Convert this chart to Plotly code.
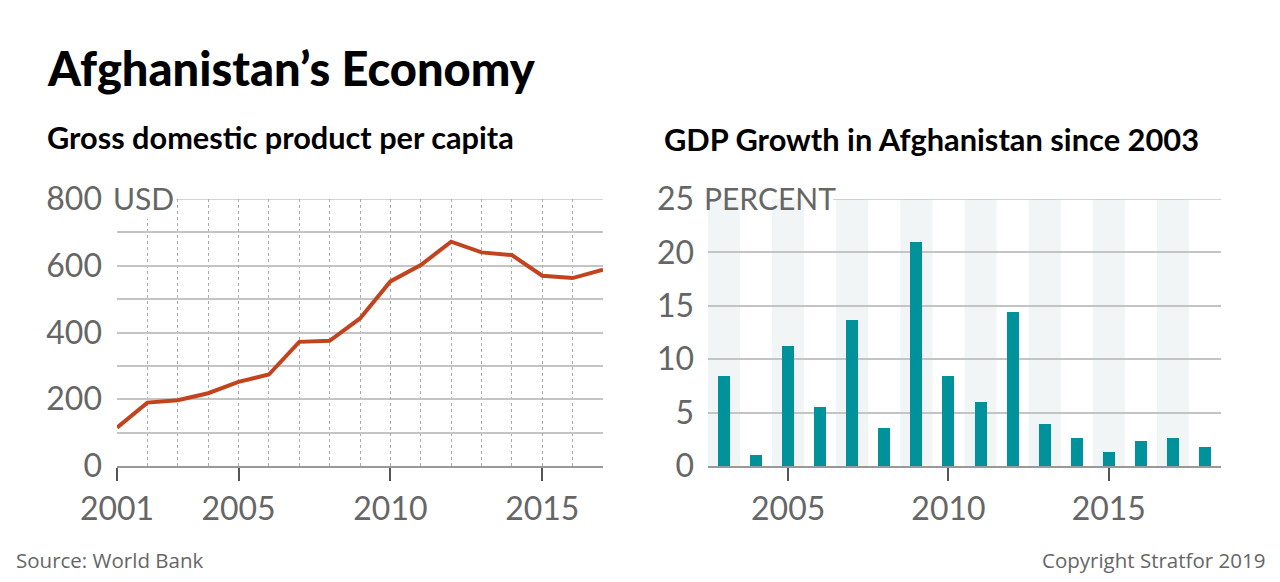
import plotly.graph_objects as go

# ---- data ----
gdp_years = list(range(2001, 2018))
gdp_per_capita = [115, 190, 197, 218, 252, 274, 372, 375, 442, 553, 602, 672, 640, 632, 570, 563, 588]

growth_years = list(range(2003, 2019))
growth_pct = [8.4, 1.0, 11.2, 5.5, 13.7, 3.6, 21.0, 8.4, 6.0, 14.4, 3.9, 2.6, 1.3, 2.3, 2.6, 1.8]

left_xticks = [2001, 2005, 2010, 2015]
left_yticks = [0, 200, 400, 600, 800]
right_xticks = [2005, 2010, 2015]
right_yticks = [0, 5, 10, 15, 20, 25]

W, H = 1280, 582
def px_x(p): return p / W
def px_y(p): return 1 - p / H

FONT = "Lato"
GRAY = "#666666"
LINE_RED = "#c1441e"
TEAL = "#00929b"
BAND = "#f1f5f6"
GRID = "#c4c4c4"

fig = go.Figure()

fig.add_trace(go.Scatter(x=gdp_years, y=gdp_per_capita, mode="lines",
                         line=dict(color=LINE_RED, width=4), xaxis="x", yaxis="y",
                         hoverinfo="x+y", showlegend=False))
fig.add_trace(go.Bar(x=growth_years, y=growth_pct, marker=dict(color=TEAL, line=dict(width=0)),
                     width=0.375, xaxis="x2", yaxis="y2", showlegend=False))

ydom = [px_y(466), px_y(199)]
tickfont = dict(family=FONT, size=32, color=GRAY)

fig.update_layout(
    width=W, height=H,
    margin=dict(l=0, r=0, t=0, b=0),
    paper_bgcolor="white", plot_bgcolor="white",
    xaxis=dict(domain=[px_x(117), px_x(603)], range=[2001, 2017], tickvals=left_xticks,
               ticks="outside", ticklen=13, tickcolor="#555555", tickwidth=1.5,
               showline=True, linecolor="#999999", linewidth=2,
               showgrid=True, gridcolor="#aaaaaa", griddash="dot", gridwidth=1,
               minor=dict(dtick=1, tick0=2001, showgrid=True, gridcolor="#aaaaaa",
                          griddash="dot", gridwidth=1, ticklen=0),
               tickfont=tickfont, ticklabelstandoff=1, zeroline=False,
               automargin=False, fixedrange=True),
    yaxis=dict(domain=ydom, range=[0, 800], tickvals=left_yticks, showgrid=False,
               minor=dict(tickvals=[100, 200, 300, 400, 500, 600, 700], showgrid=True,
                          gridcolor=GRID, gridwidth=1.5, ticklen=0),
               ticks="", tickfont=tickfont, ticklabelstandoff=14, zeroline=False,
               showline=False, automargin=False, fixedrange=True),
    xaxis2=dict(domain=[px_x(708), px_x(1221)], range=[2002.5, 2018.5], tickvals=right_xticks,
                ticks="outside", ticklen=13, tickcolor="#555555", tickwidth=1.5,
                showline=True, linecolor="#999999", linewidth=2, showgrid=False,
                tickfont=tickfont, ticklabelstandoff=1, zeroline=False,
                automargin=False, fixedrange=True, anchor="y2"),
    yaxis2=dict(domain=ydom, range=[0, 25], tickvals=right_yticks, showgrid=False,
                minor=dict(tickvals=[5, 10, 15, 20], showgrid=True, gridcolor=GRID,
                           gridwidth=1.5, ticklen=0),
                ticks="", tickfont=tickfont, ticklabelstandoff=13, zeroline=False,
                showline=False, automargin=False, fixedrange=True, anchor="x2"),
    bargap=0,
)

shapes = []
# alternating background bands for odd years
for yr in growth_years:
    if yr % 2 == 1:
        shapes.append(dict(type="rect", xref="x2", yref="y2 domain", x0=yr - 0.5, x1=yr + 0.5,
                           y0=0, y1=1, fillcolor=BAND, line=dict(width=0), layer="below"))
# top grid lines, starting after the unit labels
shapes.append(dict(type="line", xref="paper", yref="y", x0=px_x(174), x1=px_x(603), y0=800, y1=800,
                   line=dict(color=GRID, width=1.5), layer="below"))
shapes.append(dict(type="line", xref="paper", yref="y2", x0=px_x(833), x1=px_x(1221), y0=25, y1=25,
                   line=dict(color=GRID, width=1.5), layer="below"))
fig.update_layout(shapes=shapes)

ann = [
    dict(text="Afghanistan’s Economy", x=px_x(45), y=px_y(68), xref="paper", yref="paper",
         xanchor="left", yanchor="middle", showarrow=False,
         font=dict(family=FONT, size=47, color="#000000", weight=900)),
    dict(text="Gross domestic product per capita", x=px_x(45), y=px_y(137), xref="paper", yref="paper",
         xanchor="left", yanchor="middle", showarrow=False,
         font=dict(family=FONT, size=30.7, color="#000000", weight=700)),
    dict(text="GDP Growth in Afghanistan since 2003", x=px_x(662), y=px_y(139), xref="paper", yref="paper",
         xanchor="left", yanchor="middle", showarrow=False,
         font=dict(family=FONT, size=30.8, color="#000000", weight=700)),
    dict(text="USD", x=px_x(110), y=px_y(198), xref="paper", yref="paper",
         xanchor="left", yanchor="middle", showarrow=False, bgcolor="white", borderpad=2,
         font=dict(family=FONT, size=30, color=GRAY)),
    dict(text="PERCENT", x=px_x(702), y=px_y(198), xref="paper", yref="paper",
         xanchor="left", yanchor="middle", showarrow=False,
         font=dict(family=FONT, size=30, color=GRAY)),
    dict(text="Source: World Bank", x=px_x(14), y=px_y(560), xref="paper", yref="paper",
         xanchor="left", yanchor="middle", showarrow=False,
         font=dict(family="Open Sans", size=20.5, color=GRAY)),
    dict(text="Copyright Stratfor 2019", x=px_x(1267), y=px_y(560), xref="paper", yref="paper",
         xanchor="right", yanchor="middle", showarrow=False,
         font=dict(family="Open Sans", size=20.5, color=GRAY)),
]
fig.update_layout(annotations=ann)

fig.write_html("out.html", config={"displayModeBar": False})
